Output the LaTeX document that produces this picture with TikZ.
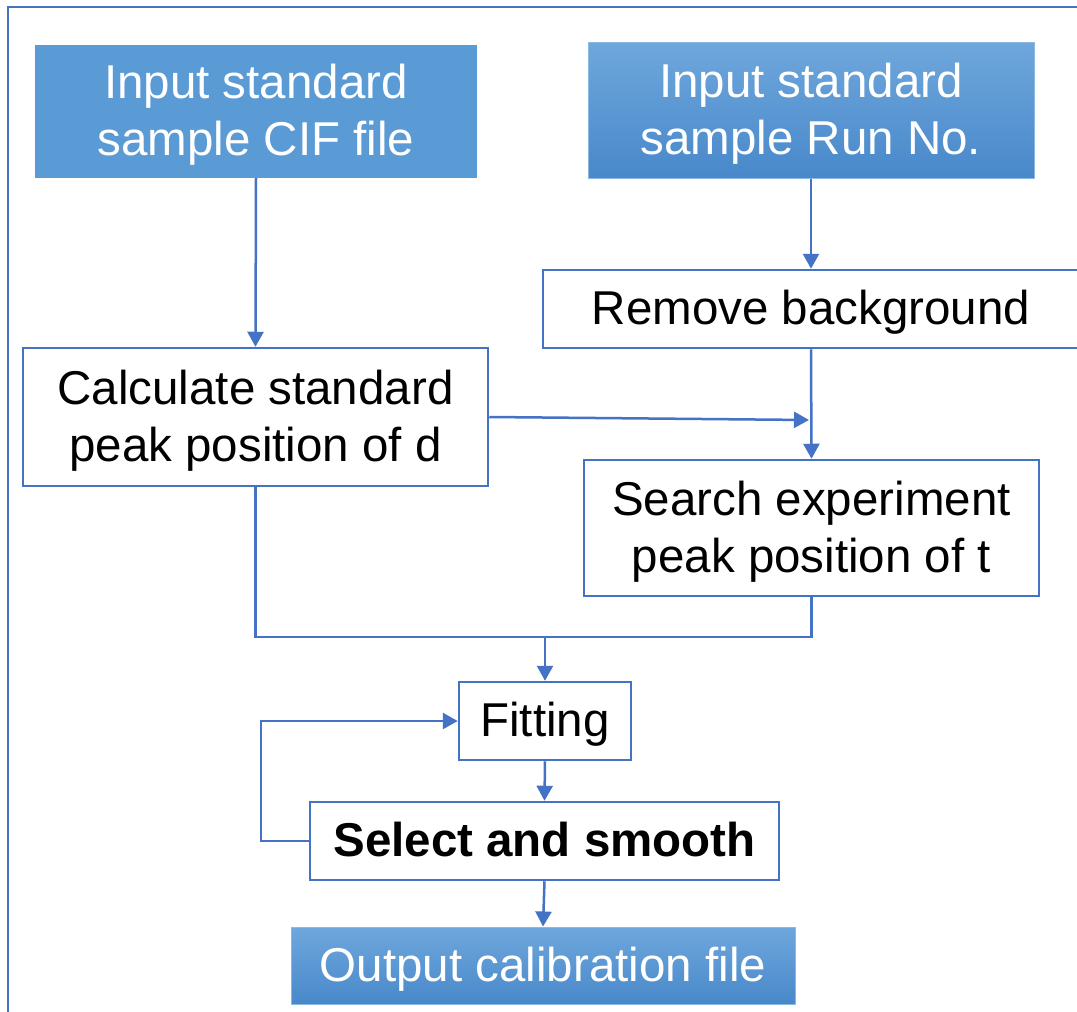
\documentclass[tikz,border=0pt]{standalone}
\usepackage{fontspec}
\setmainfont{Liberation Sans}
\usetikzlibrary{arrows.meta}
\definecolor{flowline}{HTML}{4472C4}
\definecolor{boxblue}{HTML}{5B9BD5}
\definecolor{boxtop}{HTML}{6FA7DC}
\definecolor{boxbot}{HTML}{4888CA}
% set a label slightly below the optical centre, keeping its nominal size
\newcommand{\lowertext}[1]{\raisebox{-4.5pt}[\height][\depth]{\begin{tabular}{@{}c@{}}#1\end{tabular}}}
\tikzset{
  every node/.style={font=\fontsize{47.5}{57}\selectfont, inner sep=0pt},
  plainbox/.style={rectangle, draw=flowline, line width=2.5pt, fill=white, text=black},
  flatbox/.style={rectangle, fill=boxblue, text=white},
  shadebox/.style={rectangle, top color=boxtop, bottom color=boxbot, draw=boxtop!80!white, line width=1pt, text=white},
  flow/.style={draw=flowline, line width=2.5pt},
  arr/.style={flow, -{Triangle[length=15pt,width=16pt]}},
}
\begin{document}
\begin{tikzpicture}[x=1pt,y=-1pt]
\clip (0,0) rectangle (1077,1012);
\fill[white] (0,0) rectangle (1077,1012);
% outer frame (right and bottom edges lie beyond the page)
\draw[flow] (8,1030) -- (8,7) -- (1100,7) -- (1100,1030);

% boxes
\node[flatbox, minimum width=442pt, minimum height=133pt] (cif) at (256,111.5) {\lowertext{Input standard\\sample CIF file}};
\node[shadebox, minimum width=446pt, minimum height=136pt] (run) at (811,110) {\lowertext{Input standard\\sample Run No.}};
\node[plainbox, minimum width=536pt, minimum height=78pt] (bg) at (811,309) {\lowertext{Remove background}};
\node[plainbox, minimum width=465pt, minimum height=138pt] (calc) at (255.5,417) {\lowertext{Calculate standard\\peak position of d}};
\node[plainbox, minimum width=455pt, minimum height=136pt] (search) at (811.5,528) {\lowertext{Search experiment\\peak position of t}};
\node[plainbox, minimum width=172pt, minimum height=78pt] (fit) at (545,721) {\lowertext{Fitting}};
\node[plainbox, minimum width=469pt, minimum height=78pt, font=\fontsize{47.5}{57}\selectfont\bfseries] (sel) at (544.5,841) {\lowertext{Select and smooth}};
\node[shadebox, minimum width=504pt, minimum height=77pt] (out) at (543,965.5) {\lowertext{Output calibration file}};

% junction points
\coordinate (join) at (809,420);
\coordinate (merge) at (545,637);

% connectors
\draw[arr] (cif.south) -- (calc.north);
\draw[arr] (run.south) -- (bg.north);
\draw[arr] (bg.south) -- (search.north);
\draw[arr] (calc.east) -- (join);
\draw[flow] (calc.south) |- (merge) -| (search.south);
\draw[arr] (merge) -- (fit.north);
\draw[arr] (fit.south) -- (sel.north);
\draw[arr] (sel.west) -- ++(-48,0) |- (fit.west);
\draw[arr] (sel.south) -- (out.north);
\end{tikzpicture}
\end{document}
